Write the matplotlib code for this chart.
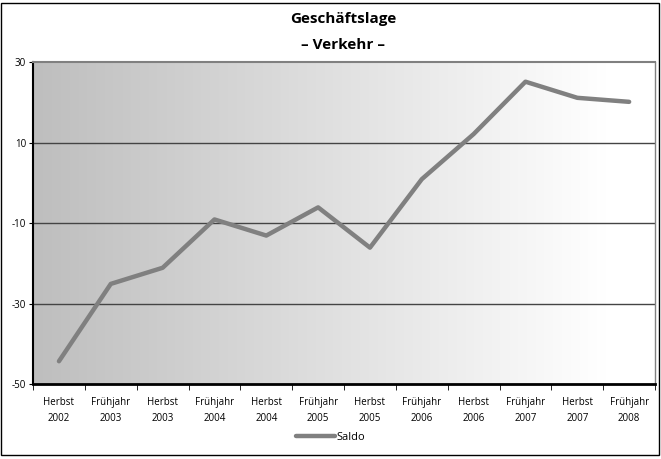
import numpy as np
import matplotlib.pyplot as plt
from matplotlib.patches import Rectangle

plt.rcParams['font.family'] = ['Open Sans', 'DejaVu Sans']

# data
labels = ["Herbst\n2002", "Frühjahr\n2003", "Herbst\n2003", "Frühjahr\n2004",
          "Herbst\n2004", "Frühjahr\n2005", "Herbst\n2005", "Frühjahr\n2006",
          "Herbst\n2006", "Frühjahr\n2007", "Herbst\n2007", "Frühjahr\n2008"]
saldo = [-44.3, -25.1, -21.1, -9.1, -13.1, -6.1, -16.1, 0.9, 12.1, 25.1, 21.1, 20.1]
yticks = [-50, -30, -10, 10, 30]

fig = plt.figure(figsize=(6.61, 4.59), dpi=100)
ax = fig.add_axes([0.050, 0.163, 0.941, 0.702])

x = np.arange(len(saldo))
ax.set_xlim(-0.5, len(saldo) - 0.5)
ax.set_ylim(-50, 30)

# grey-to-white gradient background
g = np.concatenate([np.linspace(0.745, 1.0, 236), np.ones(20)])
img = np.dstack([g, g, g]).reshape(1, -1, 3)
ax.imshow(img, extent=[-0.5, len(saldo) - 0.5, -50, 30], aspect='auto', zorder=0)

for v in [10, -10, -30]:
    ax.axhline(v, color='#444444', lw=1.0, zorder=1)

ax.plot(x, saldo, color='#808080', lw=3.2, solid_capstyle='round', zorder=3, label='Saldo')

ax.set_yticks(yticks)
ax.set_yticklabels([str(t) for t in yticks], fontsize=7)
ax.set_xticks(np.arange(len(saldo) + 1) - 0.5, minor=True)
ax.set_xticks(x)
ax.set_xticklabels(labels, fontsize=7, linespacing=1.7)
ax.tick_params(axis='x', which='major', length=0, pad=9)
ax.tick_params(axis='x', which='minor', length=4, color='black')
ax.tick_params(axis='y', length=3, pad=2)

ax.spines['left'].set_color('black')
ax.spines['left'].set_linewidth(1.5)
ax.spines['bottom'].set_color('black')
ax.spines['bottom'].set_linewidth(2)
ax.spines['top'].set_color('#808080')
ax.spines['top'].set_linewidth(1.5)
ax.spines['right'].set_color('#808080')
ax.spines['right'].set_linewidth(1)

fig.text(0.519, 0.959, "Geschäftslage", ha='center', va='center', fontsize=11, fontweight='bold')
fig.text(0.519, 0.902, "– Verkehr –", ha='center', va='center', fontsize=11, fontweight='bold')

fig.legend(loc='center', bbox_to_anchor=(0.5, 0.046), frameon=False, fontsize=8,
           handlelength=3.5, handletextpad=0.1)

fig.patches.append(Rectangle((0.002, 0.008), 0.995, 0.985, transform=fig.transFigure,
                             fill=False, edgecolor='black', lw=1))

fig.savefig('out.png', dpi=100)
